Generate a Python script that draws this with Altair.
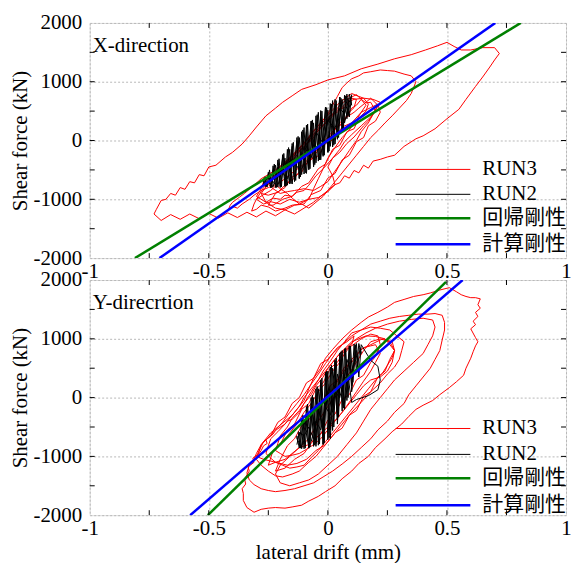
import altair as alt
import pandas as pd

FONT = "Liberation Serif"
LEGEND_FONT = "Liberation Serif, Noto Sans CJK JP"

SERIES = ["RUN3", "RUN2", "回帰剛性", "計算剛性"]
COLORS = ["#ff0000", "#000000", "#008000", "#0000ff"]
WIDTHS = [1, 1, 2.5, 2.5]

X_TICK_LABELS = [-1, -0.5, 0, 0.5, 1]
Y_TICK_LABELS = [-2000, -1000, 0, 1000, 2000]
X_MINOR = [-0.75, -0.5, -0.25, 0, 0.25, 0.5, 0.75]
Y_MINOR = [-1500, -1000, -500, 0, 500, 1000, 1500]

PANEL_LABELS = ["X-direction", "Y-direcrtion"]
X_TITLE = "lateral drift (mm)"
Y_TITLE = "Shear force (kN)"

# ---------------- X-direction (top panel) ----------------
TOP_RUN3 = [
    (0.00, 0), (0.03, 180), (0.05, 300), (0.08, 420), (0.10, 550), (0.12, 600), (0.14, 700), (0.16, 640),
    (0.18, 650), (0.20, 500), (0.17, 330), (0.15, 250), (0.11, 60), (0.08, -50), (0.05, -200), (0.02, -300),
    (-0.02, -480), (-0.05, -600), (-0.08, -760), (-0.10, -850), (-0.13, -880), (-0.15, -950), (-0.18, -930),
    (-0.20, -1000), (-0.23, -980), (-0.26, -1050), (-0.30, -950), (-0.28, -820), (-0.27, -700), (-0.23, -560),
    (-0.20, -450), (-0.16, -300), (-0.12, -150), (-0.09, 0), (-0.05, 150), (-0.02, 320), (0.02, 450),
    (0.05, 600), (0.08, 700), (0.12, 780), (0.14, 700), (0.16, 600), (0.14, 480), (0.12, 350), (0.09, 180),
    (0.06, 50), (0.03, -120), (0.00, -300), (-0.02, -480), (-0.04, -650), (-0.06, -820), (-0.08, -1000),
    (-0.12, -1080), (-0.15, -980), (-0.17, -900), (-0.20, -820), (-0.22, -750), (-0.25, -800), (-0.28, -850),
    (-0.31, -930), (-0.33, -1000), (-0.36, -1080), (-0.38, -1150), (-0.40, -1120), (-0.42, -1200),
    (-0.41, -1100), (-0.40, -1050), (-0.37, -960), (-0.35, -900), (-0.31, -760), (-0.28, -650), (-0.25, -580),
    (-0.22, -500), (-0.18, -370), (-0.15, -250), (-0.11, -80), (-0.08, 50), (-0.05, 200), (-0.02, 350),
    (0.02, 520), (0.05, 650), (0.08, 740), (0.10, 800), (0.13, 750), (0.15, 720), (0.19, 700), (0.22, 650),
    (0.20, 520), (0.18, 400), (0.14, 250), (0.10, 100), (0.07, -20), (0.05, -150), (0.02, -300), (0.00, -450),
    (0.02, -600), (0.03, -750), (0.00, -850), (-0.02, -950), (-0.05, -1050), (-0.08, -1150), (-0.11, -1080),
    (-0.15, -1100), (-0.18, -1150), (-0.22, -1200), (-0.25, -1130), (-0.28, -1100), (-0.30, -1170),
    (-0.32, -1200), (-0.31, -1080), (-0.30, -1000), (-0.27, -920), (-0.24, -850), (-0.21, -740), (-0.18, -650),
    (-0.14, -520), (-0.10, -400), (-0.07, -250), (-0.03, -100), (0.00, 60), (0.03, 200), (0.06, 300),
    (0.08, 400), (0.11, 480), (0.13, 550), (0.16, 650), (0.18, 720), (0.21, 600), (0.19, 450), (0.17, 300),
    (0.14, 150), (0.12, 0), (0.09, -170), (0.06, -350), (0.03, -520), (0.00, -700), (-0.03, -780),
    (-0.06, -850), (-0.10, -820), (-0.14, -850), (-0.17, -870), (-0.20, -900), (-0.23, -820), (-0.25, -750),
    (-0.22, -580), (-0.18, -400), (-0.14, -230), (-0.10, -50), (-0.07, 120), (-0.03, 300), (0.00, 450),
    (0.02, 600),
    (0.04, 750), (0.06, 900), (0.08, 980), (0.10, 1050), (0.13, 1100), (0.15, 1150), (0.18, 1170),
    (0.22, 1200), (0.25, 1190), (0.28, 1180), (0.32, 1130), (0.35, 1100), (0.37, 1000), (0.36, 900),
    (0.35, 800), (0.33, 680), (0.30, 550), (0.27, 420), (0.24, 300), (0.21, 170), (0.18, 50), (0.15, -100),
    (0.12, -250), (0.09, -400), (0.06, -550), (0.03, -700), (0.00, -850), (-0.03, -950), (-0.06, -1050),
    (-0.10, -1150), (-0.14, -1250), (-0.18, -1180), (-0.22, -1280), (-0.26, -1200), (-0.30, -1300),
    (-0.34, -1220), (-0.38, -1310), (-0.42, -1230), (-0.46, -1320), (-0.50, -1240), (-0.54, -1330),
    (-0.58, -1250), (-0.62, -1340), (-0.66, -1260), (-0.70, -1360), (-0.73, -1250),
    (-0.72, -1170), (-0.70, -1020), (-0.68, -1000), (-0.66, -900), (-0.64, -930), (-0.62, -800),
    (-0.60, -830), (-0.58, -700), (-0.56, -720), (-0.54, -580), (-0.52, -600), (-0.50, -450), (-0.47, -420),
    (-0.43, -280), (-0.40, -200), (-0.36, -60), (-0.33, 80), (-0.30, 230), (-0.26, 420), (-0.22, 550),
    (-0.19, 650), (-0.15, 760), (-0.11, 870), (-0.05, 950), (0.00, 1030), (0.07, 1100), (0.14, 1220),
    (0.21, 1300), (0.28, 1390), (0.35, 1460), (0.41, 1540), (0.46, 1610), (0.50, 1670), (0.53, 1600),
    (0.56, 1540), (0.60, 1540), (0.65, 1580), (0.70, 1580), (0.72, 1480), (0.70, 1370), (0.68, 1250),
    (0.65, 1080), (0.62, 920), (0.58, 700), (0.55, 530), (0.50, 370), (0.45, 200), (0.40, 80), (0.37, 30),
    (0.32, -100), (0.28, -250), (0.25, -280), (0.22, -320), (0.19, -350), (0.17, -470), (0.15, -420),
    (0.13, -550), (0.11, -510), (0.09, -640), (0.07, -600), (0.05, -720), (0.03, -750), (0.00, -870),
    (-0.04, -970),
    (-0.08, -1000), (-0.12, -1050), (-0.16, -1000), (-0.20, -1080), (-0.24, -1040), (-0.27, -1080),
    (-0.30, -1000), (-0.27, -800), (-0.24, -700), (-0.20, -500), (-0.17, -420), (-0.13, -200), (-0.10, -120),
    (-0.06, 100), (-0.03, 200), (0.01, 420), (0.04, 480), (0.08, 650), (0.11, 700), (0.15, 720),
    (0.17, 620), (0.16, 500), (0.13, 380), (0.11, 200), (0.08, 150), (0.05, -80), (0.02, -150),
    (-0.01, -400), (-0.04, -480), (-0.08, -720), (-0.11, -780), (-0.15, -950), (-0.19, -1000),
    (-0.23, -1100), (-0.25, -1100),
    (-0.22, -900), (-0.18, -800), (-0.15, -620), (-0.11, -540), (-0.08, -330), (-0.04, -260), (-0.01, -50),
    (0.03, 30), (0.06, 230), (0.10, 300), (0.14, 480), (0.18, 560), (0.21, 620), (0.22, 480), (0.20, 330),
    (0.17, 250), (0.15, 50), (0.12, -20), (0.09, -250), (0.06, -330), (0.03, -560), (0.00, -640),
    (-0.03, -850), (-0.07, -920), (-0.10, -1080), (-0.14, -1100), (-0.18, -1180), (-0.22, -1150),
    (-0.26, -1050), (-0.28, -900),
    (-0.24, -680), (-0.21, -600), (-0.17, -380), (-0.14, -300), (-0.10, -80), (-0.07, 0), (-0.03, 230),
    (0.00, 320), (0.04, 520), (0.07, 560), (0.10, 720), (0.12, 700), (0.11, 560), (0.09, 480), (0.06, 280),
    (0.03, 200), (0.00, -20), (-0.03, -100), (-0.07, -330), (-0.10, -420), (-0.14, -640), (-0.17, -720),
    (-0.21, -880), (-0.25, -930), (-0.28, -900),
]

TOP_RUN2 = [
    (-0.27, -760), (-0.25, -600), (-0.24, -800), (-0.22, -420), (-0.21, -790), (-0.19, -300), (-0.18, -780),
    (-0.16, -150), (-0.15, -740), (-0.13, 0), (-0.12, -650), (-0.10, 220), (-0.09, -560), (-0.07, 330),
    (-0.06, -450), (-0.04, 480), (-0.03, -330), (-0.01, 560), (0.00, -200), (0.02, 680), (0.03, -60),
    (0.05, 740), (0.06, 150), (0.08, 790), (0.09, 400), (0.10, 780),
    (0.09, 650), (0.07, 300), (0.06, 700), (0.04, 100), (0.03, 620), (0.01, -100), (0.00, 520),
    (-0.02, -250), (-0.03, 400), (-0.05, -380), (-0.06, 300), (-0.08, -480), (-0.09, 150), (-0.11, -580),
    (-0.12, 50), (-0.14, -680), (-0.15, -100), (-0.17, -760), (-0.18, -300), (-0.20, -780), (-0.21, -450),
    (-0.23, -790), (-0.25, -700), (-0.27, -740),
    (-0.27, -650), (-0.26, -790), (-0.25, -540), (-0.24, -800), (-0.23, -430), (-0.22, -800), (-0.21, -330),
    (-0.20, -800), (-0.19, -240), (-0.18, -780), (-0.17, -150), (-0.16, -740), (-0.15, -50), (-0.14, -700),
    (-0.13, 50), (-0.12, -640), (-0.11, 150), (-0.10, -570), (-0.09, 260), (-0.08, -500), (-0.07, 330),
    (-0.06, -430), (-0.05, 420), (-0.04, -350), (-0.03, 510), (-0.02, -270), (-0.01, 570), (0.00, -200),
    (0.01, 630), (0.02, -110), (0.03, 700), (0.04, 20), (0.05, 740), (0.06, 150), (0.07, 770), (0.08, 370),
    (0.09, 790), (0.10, 600),
    (0.095, 700), (0.085, 420), (0.075, 760), (0.065, 200), (0.055, 720), (0.045, 50), (0.035, 680),
    (0.025, -80), (0.015, 620), (0.005, -180), (-0.005, 560), (-0.015, -250), (-0.025, 500), (-0.035, -330),
    (-0.045, 440), (-0.055, -410), (-0.065, 350), (-0.075, -480), (-0.085, 280), (-0.095, -550),
    (-0.105, 180), (-0.115, -620), (-0.125, 70), (-0.135, -680), (-0.145, -30), (-0.155, -730),
    (-0.165, -120), (-0.175, -770), (-0.185, -220), (-0.195, -790), (-0.205, -310), (-0.215, -800),
    (-0.225, -400), (-0.235, -800), (-0.245, -500), (-0.255, -790), (-0.265, -620),
    (-0.24, -650), (-0.22, -750), (-0.20, -500), (-0.17, -650), (-0.15, -300), (-0.12, -500), (-0.10, -100),
    (-0.07, -300), (-0.05, 150), (-0.02, -50), (0.00, 350), (0.03, 200), (0.05, 550), (0.07, 450),
    (0.09, 720),
]

TOP_FIT = [(-0.81, -2000), (0.81, 2000)]
TOP_CALC = [(-0.707, -2000), (0.703, 2000)]

# ---------------- Y-direction (bottom panel) ----------------
BOT_RUN3 = [
    (0.00, 0), (0.03, 200), (0.05, 350), (0.08, 520), (0.10, 650), (0.13, 780), (0.15, 850), (0.18, 880),
    (0.20, 900), (0.22, 750), (0.20, 600), (0.18, 450), (0.15, 280), (0.12, 100), (0.09, -80), (0.06, -250),
    (0.03, -400), (0.00, -550), (-0.03, -700), (-0.06, -800), (-0.09, -880), (-0.12, -950), (-0.15, -980),
    (-0.18, -1000), (-0.20, -950), (-0.22, -900), (-0.21, -780), (-0.20, -650), (-0.17, -500), (-0.15, -350),
    (-0.12, -220), (-0.10, -100), (-0.07, 50), (-0.05, 200), (-0.02, 350), (0.00, 500), (0.03, 650),
    (0.05, 750), (0.08, 870), (0.10, 950), (0.13, 1000), (0.16, 1050), (0.20, 1040), (0.24, 1000),
    (0.26, 900), (0.28, 800), (0.27, 680), (0.25, 550), (0.23, 420), (0.20, 300), (0.17, 150), (0.14, 0),
    (0.11, -150), (0.08, -300), (0.05, -450), (0.02, -600), (-0.01, -750), (-0.04, -900), (-0.07, -1020),
    (-0.10, -1150), (-0.13, -1180), (-0.16, -1200), (-0.19, -1150), (-0.22, -1100), (-0.24, -1030),
    (-0.26, -950), (-0.25, -820), (-0.24, -700), (-0.21, -580), (-0.18, -450), (-0.15, -300), (-0.12, -150),
    (-0.10, 0), (-0.07, 150), (-0.04, 300), (-0.02, 450), (0.01, 620), (0.04, 800), (0.07, 950),
    (0.10, 1100), (0.14, 1150), (0.18, 1200), (0.22, 1180), (0.26, 1150), (0.29, 1050), (0.32, 950),
    (0.31, 800), (0.30, 650), (0.28, 520), (0.25, 400), (0.22, 250), (0.18, 100), (0.14, -80), (0.10, -250),
    (0.07, -400), (0.04, -550), (0.01, -700), (-0.02, -850), (-0.05, -1000), (-0.08, -1100), (-0.12, -1250),
    (-0.15, -1300), (-0.19, -1350), (-0.22, -1330), (-0.25, -1250), (-0.28, -1150), (-0.30, -1050),
    (-0.29, -930), (-0.28, -800), (-0.25, -680), (-0.22, -550), (-0.19, -420), (-0.16, -250),
    (-0.13, -100), (-0.10, 50), (-0.07, 230), (-0.04, 400), (-0.01, 580), (0.02, 750), (0.06, 900),
    (0.10, 1050), (0.14, 1150), (0.18, 1250), (0.22, 1300), (0.26, 1350), (0.30, 1380), (0.34, 1400),
    (0.38, 1420), (0.42, 1420), (0.45, 1430), (0.48, 1400), (0.49, 1280), (0.49, 1150), (0.48, 980),
    (0.47, 800), (0.45, 650), (0.43, 500), (0.40, 350), (0.37, 200), (0.34, 50), (0.32, -100), (0.28, -250),
    (0.25, -400), (0.21, -550), (0.18, -700), (0.14, -850), (0.10, -1000), (0.06, -1130), (0.02, -1250),
    (-0.02, -1350), (-0.06, -1450), (-0.10, -1500), (-0.14, -1550), (-0.18, -1580), (-0.22, -1600),
    (-0.25, -1580), (-0.28, -1550), (-0.31, -1480), (-0.33, -1400), (-0.34, -1280), (-0.33, -1150),
    (-0.31, -1050), (-0.30, -950),
    (-0.28, -800), (-0.26, -700), (-0.24, -600), (-0.21, -500), (-0.18, -400), (-0.15, -300), (-0.12, -150),
    (-0.10, -50), (-0.08, 150), (-0.06, 330), (-0.03, 500), (-0.01, 670), (0.02, 820), (0.06, 1000),
    (0.10, 1150), (0.14, 1280), (0.17, 1370), (0.21, 1450), (0.25, 1540), (0.28, 1620), (0.32, 1670),
    (0.36, 1720), (0.40, 1750), (0.43, 1780), (0.47, 1830), (0.51, 1870), (0.54, 1800), (0.56, 1750),
    (0.58, 1720), (0.60, 1700), (0.62, 1700), (0.64, 1680), (0.63, 1580), (0.64, 1520), (0.62, 1450),
    (0.63, 1380), (0.61, 1300), (0.62, 1240), (0.60, 1170), (0.62, 1020), (0.63, 950), (0.62, 880),
    (0.61, 780), (0.60, 670), (0.58, 500), (0.57, 380), (0.54, 270), (0.51, 170),
    (0.47, 50), (0.44, -50), (0.40, -130), (0.37, -200), (0.34, -320), (0.31, -450), (0.27, -580),
    (0.24, -700), (0.20, -850), (0.17, -1000), (0.13, -1120), (0.10, -1250), (0.06, -1380), (0.03, -1500),
    (-0.01, -1600), (-0.04, -1680), (-0.08, -1760), (-0.11, -1830), (-0.15, -1860), (-0.18, -1880),
    (-0.22, -1870), (-0.25, -1880), (-0.28, -1900), (-0.31, -1950), (-0.34, -1870), (-0.355, -1750),
    (-0.355, -1630), (-0.36, -1550), (-0.345, -1470), (-0.35, -1380), (-0.33, -1250), (-0.335, -1180),
    (-0.31, -1100), (-0.315, -1030), (-0.29, -960), (-0.28, -900), (-0.27, -820), (-0.255, -780),
    (-0.26, -720), (-0.23, -620), (-0.22, -560), (-0.21, -530), (-0.18, -450), (-0.17, -400), (-0.15, -370),
    (-0.12, -250), (-0.10, -100),
    (-0.07, 100), (-0.04, 300), (0.00, 500), (0.04, 700), (0.08, 850), (0.12, 1000), (0.16, 1100),
    (0.20, 1180), (0.25, 1250), (0.30, 1300), (0.35, 1330), (0.40, 1350), (0.44, 1320), (0.45, 1200),
    (0.44, 1050), (0.42, 900), (0.40, 750), (0.36, 600), (0.32, 450), (0.28, 300), (0.25, 150), (0.22, 0),
    (0.18, -200), (0.15, -400), (0.12, -600), (0.08, -800), (0.04, -1000), (0.00, -1150), (-0.04, -1300),
    (-0.08, -1400), (-0.12, -1450), (-0.16, -1500), (-0.20, -1450), (-0.22, -1300), (-0.20, -1150),
    (-0.16, -1000), (-0.12, -850), (-0.08, -700),
    (-0.04, -400), (0.00, -150), (0.04, 100), (0.08, 350), (0.12, 600), (0.15, 800), (0.18, 950),
    (0.22, 1000), (0.26, 950), (0.28, 800), (0.27, 600), (0.25, 450), (0.22, 350), (0.18, 300), (0.15, 200),
    (0.12, 50), (0.08, -150), (0.04, -350), (0.00, -500), (-0.04, -650), (-0.08, -800), (-0.12, -850),
    (-0.18, -1050), (-0.22, -1100), (-0.25, -1150),
    (-0.23, -900), (-0.20, -800), (-0.17, -550), (-0.14, -450), (-0.11, -200), (-0.08, -100), (-0.05, 150),
    (-0.02, 250), (0.01, 500), (0.04, 600), (0.07, 800), (0.10, 880), (0.14, 1000), (0.18, 1080),
    (0.21, 1050), (0.22, 900), (0.20, 700), (0.18, 600), (0.15, 380), (0.12, 300), (0.09, 50), (0.06, -30),
    (0.03, -280), (0.00, -380), (-0.03, -620), (-0.06, -720), (-0.10, -950), (-0.14, -1050), (-0.18, -1200),
    (-0.22, -1250), (-0.20, -1050),
    (-0.17, -820), (-0.14, -700), (-0.11, -480), (-0.08, -380), (-0.05, -150), (-0.02, -50), (0.01, 200),
    (0.04, 300), (0.07, 520), (0.10, 600), (0.14, 820), (0.18, 900), (0.23, 1000), (0.27, 950), (0.28, 800),
    (0.26, 650), (0.24, 450), (0.21, 350), (0.18, 100), (0.15, 20), (0.12, -220), (0.09, -300), (0.06, -520),
    (0.03, -600), (-0.01, -800), (-0.05, -900), (-0.09, -1050), (-0.13, -1120), (-0.17, -1150),
    (-0.22, -1100), (-0.27, -1050), (-0.30, -1000),
    (-0.27, -750), (-0.24, -650), (-0.21, -420), (-0.18, -330), (-0.15, -100), (-0.12, 0), (-0.09, 250),
    (-0.06, 330), (-0.03, 580), (0.00, 650), (0.04, 850), (0.08, 950), (0.11, 1050), (0.10, 900),
    (0.07, 750), (0.05, 600), (0.02, 450), (-0.01, 250), (-0.04, 100), (-0.07, -100), (-0.10, -250),
    (-0.13, -450), (-0.16, -600), (-0.20, -800), (-0.24, -950), (-0.27, -1050),
]

BOT_RUN2 = [
    (-0.13, -800), (-0.12, -600), (-0.11, -870), (-0.09, -300), (-0.08, -860), (-0.06, 0), (-0.05, -830),
    (-0.03, 250), (-0.02, -800), (0.00, 450), (0.01, -700), (0.03, 620), (0.04, -450), (0.06, 800),
    (0.07, -200), (0.09, 870), (0.10, 100), (0.12, 920), (0.13, 350), (0.14, 900),
    (0.18, 633), (0.21, 533), (0.22, 300), (0.21, 133), (0.17, 33), (0.12, -33), (0.10, -83),
    (0.08, 500), (0.07, -100), (0.05, 650), (0.04, -300), (0.02, 500), (0.01, -550), (-0.01, 350),
    (-0.02, -700), (-0.04, 150), (-0.05, -780), (-0.07, -100), (-0.08, -840), (-0.10, -400), (-0.11, -850),
    (-0.13, -700),
    (-0.13, -650), (-0.12, -860), (-0.11, -350), (-0.10, -870), (-0.09, -150), (-0.08, -860), (-0.07, 0),
    (-0.06, -830), (-0.05, 150), (-0.04, -810), (-0.03, 300), (-0.02, -790), (-0.01, 430), (0.00, -720),
    (0.01, 520), (0.02, -560), (0.03, 640), (0.04, -380), (0.05, 760), (0.06, -230), (0.07, 830),
    (0.08, -50), (0.09, 880), (0.10, 200), (0.11, 910), (0.12, 450), (0.13, 920), (0.14, 750),
    (0.135, 850), (0.125, 520), (0.115, 900), (0.105, 260), (0.095, 880), (0.085, 0), (0.075, 840),
    (0.065, -180), (0.055, 780), (0.045, -330), (0.035, 670), (0.025, -500), (0.015, 550), (0.005, -680),
    (-0.005, 450), (-0.015, -770), (-0.025, 330), (-0.035, -790), (-0.045, 190), (-0.055, -810),
    (-0.065, 40), (-0.075, -840), (-0.085, -110), (-0.095, -860), (-0.105, -300), (-0.115, -860),
    (-0.125, -580),
    (-0.10, -650), (-0.08, -500), (-0.06, -700), (-0.04, -200), (-0.02, -500), (0.00, 100), (0.02, -250),
    (0.04, 400), (0.06, 100), (0.08, 650), (0.10, 400), (0.12, 800), (0.11, 600), (0.09, 300), (0.07, 350),
    (0.05, 0), (0.03, 100), (0.01, -300), (-0.01, -150), (-0.03, -550), (-0.05, -400), (-0.07, -750),
]

BOT_FIT = [(-0.504, -2000), (0.496, 1967)]
BOT_CALC = [(-0.578, -2000), (0.566, 2000)]

PANELS = [
    (TOP_RUN3, TOP_RUN2, TOP_FIT, TOP_CALC),
    (BOT_RUN3, BOT_RUN2, BOT_FIT, BOT_CALC),
]

W, H = 478, 236

# legend layout (pixels inside each plot area)
LEGEND_ROWS = [[147, 172, 196, 222], [149, 175, 199, 226]]
LEGEND_LINE_X = (W - 171, W - 96)
LEGEND_TEXT_X = W - 84


def frame(points):
    df = pd.DataFrame(points, columns=["x", "y"])
    df["i"] = range(len(df))
    return df


def make_panel(idx, show_x_title):
    run3, run2, fit, calc = PANELS[idx]
    xs = alt.Scale(domain=[-1, 1], nice=False, zero=False)
    ys = alt.Scale(domain=[-2000, 2000], nice=False, zero=False)
    xaxis = alt.Axis(
        values=X_TICK_LABELS, title=X_TITLE if show_x_title else None, grid=True,
        gridDash=[2, 2], gridColor="#b8b8b8", ticks=False, domain=False,
        labelExpr="'' + datum.value", labelFlush=False, labelOverlap=False,
        labelPadding=2, labelFontSize=21, labelFont=FONT, labelColor="black",
        titleFontSize=21, titleFont=FONT, titleFontWeight="normal", titleColor="black",
        titlePadding=3,
    )
    yaxis = alt.Axis(
        values=Y_TICK_LABELS, title=Y_TITLE, grid=True,
        gridDash=[2, 2], gridColor="#b8b8b8", ticks=False, domain=False,
        labelExpr="'' + datum.value", labelFlush=False, labelOverlap=False,
        labelPadding=8, labelFontSize=21, labelFont=FONT, labelColor="black",
        titleFontSize=21, titleFont=FONT, titleFontWeight="normal", titleColor="black",
        titlePadding=2,
    )
    X = alt.X("x:Q", scale=xs, axis=xaxis)
    Y = alt.Y("y:Q", scale=ys, axis=yaxis)

    layers = []
    for pts, col, sw in [(run3, COLORS[0], WIDTHS[0]), (run2, COLORS[1], WIDTHS[1]),
                         (fit, COLORS[2], WIDTHS[2]), (calc, COLORS[3], WIDTHS[3])]:
        layers.append(
            alt.Chart(frame(pts)).mark_line(clip=True, color=col, strokeWidth=sw).encode(
                x=X, y=Y, order="i:Q")
        )

    xt = pd.DataFrame({"x": X_MINOR})
    yt = pd.DataFrame({"y": Y_MINOR})
    layers += [
        alt.Chart(xt).mark_rule(color="black").encode(x=X, y=alt.value(0), y2=alt.value(5)),
        alt.Chart(xt).mark_rule(color="black").encode(x=X, y=alt.value(H - 5), y2=alt.value(H)),
        alt.Chart(yt).mark_rule(color="black").encode(y=Y, x=alt.value(0), x2=alt.value(5)),
        alt.Chart(yt).mark_rule(color="black").encode(y=Y, x=alt.value(W - 5), x2=alt.value(W)),
    ]

    layers.append(
        alt.Chart(pd.DataFrame({"label": [PANEL_LABELS[idx]]})).mark_text(
            align="left", baseline="alphabetic", fontSize=21, font=FONT, color="black"
        ).encode(x=alt.value(3), y=alt.value(29), text="label:N")
    )

    # legend
    for name, col, sw, ry in zip(SERIES, COLORS, WIDTHS, LEGEND_ROWS[idx]):
        ld = pd.DataFrame({"series": [name]})
        layers.append(
            alt.Chart(ld).mark_rule(color=col, strokeWidth=sw).encode(
                x=alt.value(LEGEND_LINE_X[0]), x2=alt.value(LEGEND_LINE_X[1]),
                y=alt.value(ry), y2=alt.value(ry))
        )
        layers.append(
            alt.Chart(ld).mark_text(
                align="left", baseline="middle", fontSize=21, font=LEGEND_FONT, color="black"
            ).encode(x=alt.value(LEGEND_TEXT_X), y=alt.value(ry), text="series:N")
        )

    return alt.layer(*layers).properties(width=W, height=H)


top = make_panel(0, False)
bot = make_panel(1, True)

chart = alt.vconcat(top, bot, spacing=22, bounds="flush").properties(
    padding={"left": 1, "top": 2, "right": 0, "bottom": 0}
).configure_view(
    stroke="black", strokeWidth=1.5
).configure(background="white")

chart.save("out.html", embed_options={"renderer": "svg", "actions": False})
